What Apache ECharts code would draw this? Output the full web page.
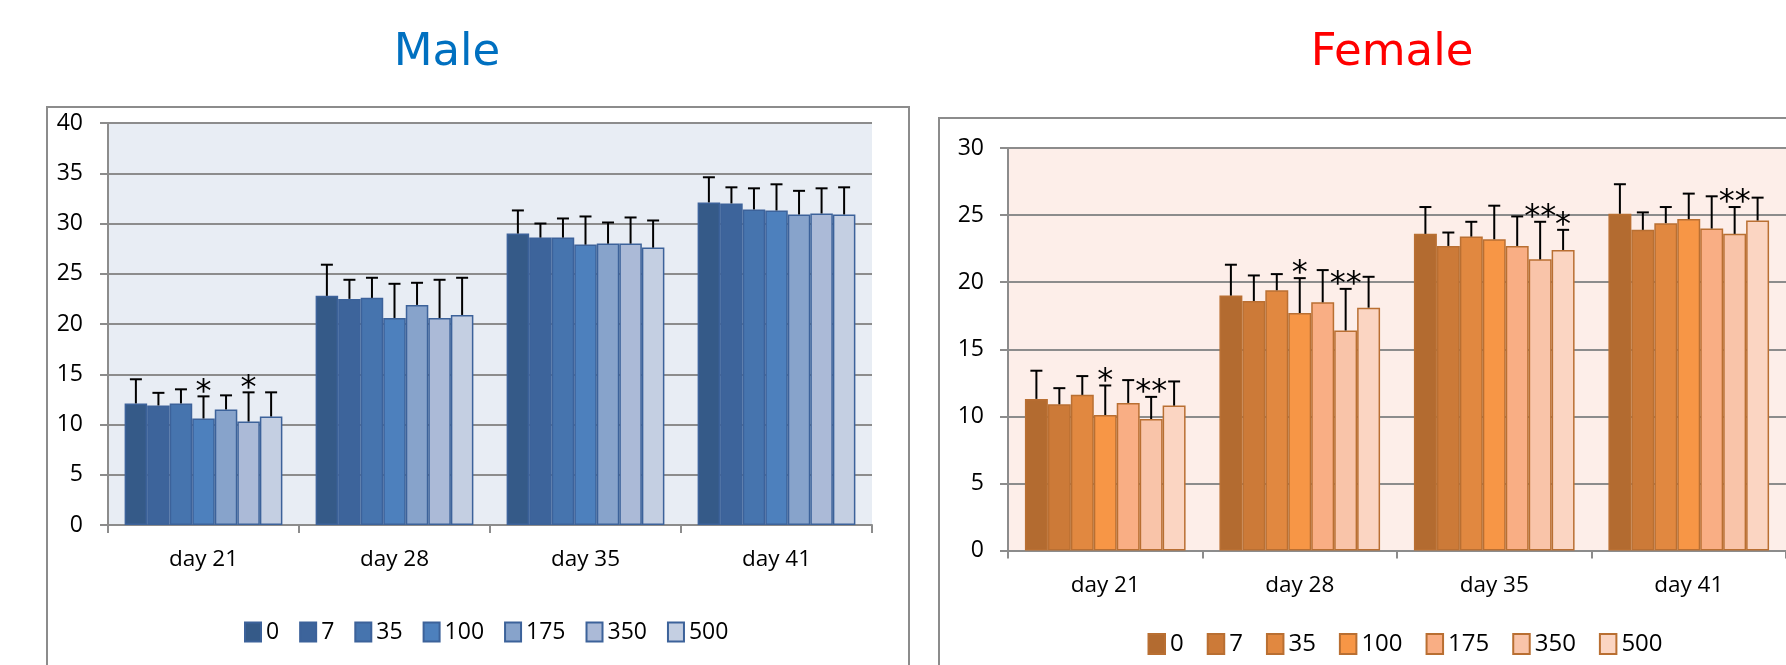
<!DOCTYPE html>
<html>
<head>
<meta charset="utf-8">
<title>Body weight by dose</title>
<script src="https://cdn.jsdelivr.net/npm/echarts@6/dist/echarts.min.js"></script>
<style>
  html, body { margin: 0; padding: 0; width: 1786px; height: 665px; overflow: hidden; background: #fff; }
  .pane { position: absolute; left: 0; top: 0; width: 1786px; height: 665px; }
</style>
</head>
<body>
<div id="male" class="pane"></div>
<div id="female" class="pane"></div>
<script>
// ---- data -------------------------------------------------------------
const days = ['day 21', 'day 28', 'day 35', 'day 41'];
const doses = ['0', '7', '35', '100', '175', '350', '500'];

// Male: mean per dose group, one value per day
const maleMean = [
  [12.1, 22.8, 29.0, 32.1],
  [11.9, 22.5, 28.6, 32.0],
  [12.1, 22.6, 28.6, 31.4],
  [10.6, 20.6, 27.9, 31.3],
  [11.5, 21.9, 28.0, 30.9],
  [10.3, 20.6, 28.0, 31.0],
  [10.8, 20.9, 27.6, 30.9]
];
// Male: standard deviation per dose group
const maleSD = [
  [2.4, 3.1, 2.3, 2.5],
  [1.25, 1.9, 1.4, 1.6],
  [1.4, 2.0, 1.9, 2.1],
  [2.2, 3.4, 2.8, 2.6],
  [1.4, 2.2, 2.1, 2.35],
  [2.9, 3.8, 2.6, 2.5],
  [2.4, 3.7, 2.7, 2.7]
];
// Male: significance marks
const maleSig = [
  ['', '', '', ''],
  ['', '', '', ''],
  ['', '', '', ''],
  ['*', '', '', ''],
  ['', '', '', ''],
  ['*', '', '', ''],
  ['', '', '', '']
];

// Female: mean per dose group, one value per day
const femaleMean = [
  [11.3, 19.0, 23.6, 25.1],
  [10.9, 18.6, 22.7, 23.9],
  [11.6, 19.4, 23.4, 24.4],
  [10.1, 17.7, 23.2, 24.7],
  [11.0, 18.5, 22.7, 24.0],
  [9.8, 16.4, 21.7, 23.6],
  [10.8, 18.1, 22.4, 24.6]
];
// Female: standard deviation per dose group
const femaleSD = [
  [2.1, 2.3, 2.0, 2.2],
  [1.2, 1.9, 1.0, 1.3],
  [1.4, 1.2, 1.1, 1.2],
  [2.2, 2.6, 2.5, 1.9],
  [1.7, 2.4, 2.2, 2.4],
  [1.65, 3.1, 2.8, 2.0],
  [1.8, 2.3, 1.5, 1.7]
];
// Female: significance marks
const femaleSig = [
  ['', '', '', ''],
  ['', '', '', ''],
  ['', '', '', ''],
  ['*', '*', '', ''],
  ['', '', '', ''],
  ['**', '**', '**', '**'],
  ['', '', '*', '']
];

// ---- styling ----------------------------------------------------------
const maleFill = ['#355a88', '#3d649b', '#4674ae', '#4d80bd', '#87a3cb', '#abbad7', '#c4cfe2'];
const femaleFill = ['#b36b30', '#cc7a38', '#e18840', '#f79646', '#f9ae84', '#f9c4a9', '#fbd5c2'];
const GRAY = '#8c8c8c';
const FONT = 'Open Sans';
const CAT_GAP = 0.174;

// upper error bars (mean to mean + SD) with optional significance mark
function errorSeries(mean, sd, sig) {
  const items = [];
  const marks = [];
  mean.forEach((row, d) => row.forEach((v, k) => {
    items.push([k, d, v, sd[d][k]]);
    marks.push(sig[d][k]);
  }));
  const n = mean.length;
  return {
    type: 'custom',
    z: 5,
    silent: true,
    data: items,
    renderItem(params, api) {
      const day = api.value(0), dose = api.value(1), m = api.value(2), s = api.value(3);
      const band = api.size([1, 0])[0];
      const inner = band * (1 - CAT_GAP);
      const barW = inner / n;
      const base = api.coord([day, m]);
      const x = base[0] - inner / 2 + barW * (dose + 0.5);
      const yTop = api.coord([day, m + s])[1];
      const children = [
        { type: 'line', shape: { x1: x, y1: base[1], x2: x, y2: yTop }, style: { stroke: '#000', lineWidth: 2 } },
        { type: 'line', shape: { x1: x - 6, y1: yTop, x2: x + 6, y2: yTop }, style: { stroke: '#000', lineWidth: 2 } }
      ];
      const mark = marks[params.dataIndex];
      if (mark) {
        children.push({
          type: 'text',
          style: {
            text: mark, x: x, y: yTop - 4, align: 'center', verticalAlign: 'middle',
            fontFamily: 'DejaVu Sans', fontSize: 32, fill: '#000'
          }
        });
      }
      return { type: 'group', children };
    }
  };
}

function panel(opts) {
  const series = opts.mean.map((row, d) => ({
    name: doses[d],
    type: 'bar',
    data: row,
    barGap: 0,
    barCategoryGap: (CAT_GAP * 100) + '%',
    itemStyle: { color: opts.fill[d], borderColor: opts.border, borderWidth: 1.5 },
    emphasis: { disabled: true }
  }));
  series.push(errorSeries(opts.mean, opts.sd, opts.sig));
  const lg = opts.legendStyle;
  return {
    animation: false,
    textStyle: { fontFamily: FONT },
    graphic: [
      {
        type: 'rect', z: -1,
        shape: { x: opts.frame[0], y: opts.frame[1], width: opts.frame[2], height: 700 },
        style: { fill: 'none', stroke: GRAY, lineWidth: 2 }
      },
      {
        type: 'text',
        x: opts.titleX, y: 53,
        style: {
          text: opts.title, fill: opts.titleColor, align: 'center', verticalAlign: 'middle',
          fontFamily: 'DejaVu Sans', fontSize: 45
        }
      }
    ],
    grid: {
      show: true, backgroundColor: opts.bg, borderWidth: 0,
      left: opts.grid[0], top: opts.grid[1], width: opts.grid[2], height: opts.grid[3]
    },
    legend: {
      data: doses,
      left: opts.legend[0], top: opts.legend[1],
      icon: 'rect',
      itemWidth: lg.w, itemHeight: lg.h, itemGap: lg.gap,
      textStyle: { fontFamily: FONT, fontSize: lg.font, color: '#000' },
      selectedMode: false
    },
    xAxis: {
      type: 'category',
      data: days,
      axisLine: { lineStyle: { color: GRAY, width: 2 } },
      axisTick: { show: true, length: 8, lineStyle: { color: GRAY, width: 2 } },
      axisLabel: { fontFamily: FONT, fontSize: 22.5, color: '#000', margin: 23.5 }
    },
    yAxis: {
      type: 'value', min: 0, max: opts.yMax, interval: 5,
      axisLine: { show: true, lineStyle: { color: GRAY, width: 2 } },
      axisTick: { show: true, length: 8, lineStyle: { color: GRAY, width: 2 } },
      splitLine: { lineStyle: { color: GRAY, width: 2 } },
      axisLabel: { fontFamily: FONT, fontSize: 23, color: '#000', margin: opts.yLabelMargin }
    },
    series
  };
}

const male = echarts.init(document.getElementById('male'), null, { renderer: 'canvas' });
male.setOption(panel({
  title: 'Male', titleColor: '#0070c0', titleX: 447,
  frame: [47, 107, 862],
  grid: [108, 123, 764, 402],
  bg: '#e8edf4',
  yMax: 40, yLabelMargin: 25,
  mean: maleMean, sd: maleSD, sig: maleSig,
  fill: maleFill, border: '#3c629a',
  legend: [239, 615.5],
  legendStyle: { w: 16, h: 19, gap: 20, font: 23 }
}));

const female = echarts.init(document.getElementById('female'), null, { renderer: 'canvas' });
female.setOption(panel({
  title: 'Female', titleColor: '#ff0000', titleX: 1392,
  frame: [939, 118, 900],
  grid: [1008, 148, 784, 402.5],
  bg: '#fdeee9',
  yMax: 30, yLabelMargin: 24,
  mean: femaleMean, sd: femaleSD, sig: femaleSig,
  fill: femaleFill, border: '#b96f32',
  legend: [1142.5, 627],
  legendStyle: { w: 16.5, h: 20, gap: 23, font: 24 }
}));
</script>
</body>
</html>
